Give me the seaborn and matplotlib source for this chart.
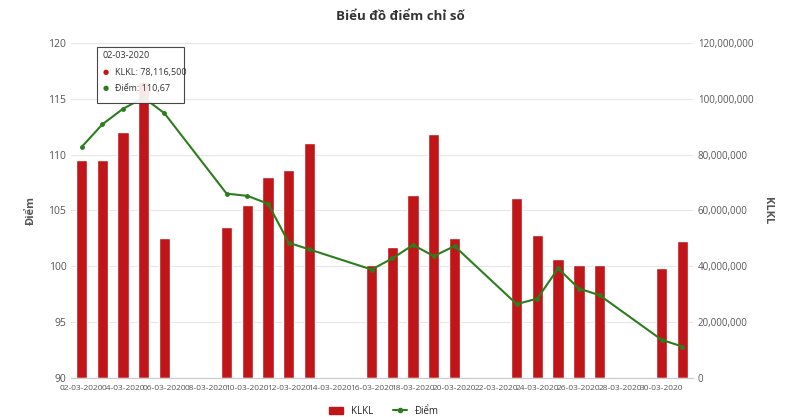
import pandas as pd
import matplotlib.pyplot as plt
import numpy as np
import seaborn as sns
from matplotlib.patches import Patch
from matplotlib.lines import Line2D

# Dữ liệu
days = [f"{d:02d}-03-2020" for d in range(2, 32)]
klkl_days = ["02-03-2020", "03-03-2020", "04-03-2020", "05-03-2020", "06-03-2020",
             "09-03-2020", "10-03-2020", "11-03-2020", "12-03-2020", "13-03-2020",
             "16-03-2020", "17-03-2020", "18-03-2020", "19-03-2020", "20-03-2020",
             "23-03-2020", "24-03-2020", "25-03-2020", "26-03-2020", "27-03-2020",
             "30-03-2020", "31-03-2020"]
klkl = [78116500, 78000000, 88000000, 106000000, 50000000,
        54000000, 62000000, 72000000, 74500000, 84000000,
        40500000, 47000000, 65500000, 87500000, 50000000,
        64500000, 51000000, 42500000, 40500000, 40500000,
        39500000, 49000000]
diem = [110.67, 112.7, 114.1, 115.1, 113.7,
        106.5, 106.3, 105.6, 102.1, 101.5,
        99.7, 100.7, 101.9, 100.9, 101.8,
        96.6, 97.1, 99.8, 98.0, 97.4,
        93.4, 92.8]

df = pd.DataFrame({"date": klkl_days, "KLKL": klkl, "Điểm": diem})
df["pos"] = [days.index(d) for d in df["date"]]

sns.set_style("white")
plt.rcParams['font.family'] = ['Open Sans', 'DejaVu Sans']

fig = plt.figure(figsize=(8, 4.17), dpi=100)
ax = fig.add_axes([0.089, 0.094, 0.777, 0.803])

# Cột KLKL (trục phải)
sns.barplot(data=df, x="date", y="KLKL", order=days, color="#c0161a",
            saturation=1, width=0.55, ax=ax, zorder=2)
ax.set_ylim(0, 120000000)
ax.set_yticks(np.arange(0, 120000001, 20000000))
ax.set_yticklabels([f"{int(v):,}" for v in ax.get_yticks()], fontsize=7, color="#555555")
ax.set_xlabel("")
ax.set_xlim(-0.5, len(days) - 0.5)
ax.set_xticks(range(0, len(days), 2))
ax.set_xticklabels(days[::2], fontsize=6, color="#555555")
ax.tick_params(axis="x", length=3, color="#cccccc", pad=2)
ax.tick_params(axis="y", length=0)
ax.yaxis.grid(True, color="#e6e6e6", linewidth=0.8, zorder=0)
ax.set_axisbelow(True)

# Đường Điểm (trục trái)
ax2 = ax.twinx()
ax.yaxis.tick_right()
ax.yaxis.set_label_position("right")
ax.set_ylabel("KLKL", rotation=270, labelpad=14, fontsize=8, fontweight="bold", color="#555555")
sns.lineplot(data=df, x="pos", y="Điểm", color="#2c7d1d", marker="o", markersize=3.5,
             markeredgewidth=0, linewidth=1.5, ax=ax2, zorder=3)
ax2.yaxis.tick_left()
ax2.yaxis.set_label_position("left")
ax2.set_ylim(90, 120)
ax2.set_yticks(range(90, 121, 5))
ax2.tick_params(axis="y", labelsize=7.5, colors="#555555", length=0)
ax2.set_ylabel("Điểm", fontsize=8, fontweight="bold", color="#555555", labelpad=8)
ax2.set_xlabel("")
ax2.set_xlim(-0.5, len(days) - 0.5)
ax2.grid(False)
for a in (ax, ax2):
    for s in ["top", "left", "right"]:
        a.spines[s].set_visible(False)
    a.spines["bottom"].set_color("#cccccc")

fig.suptitle("Biểu đồ điểm chỉ số", y=0.975, fontsize=9.5, fontweight="bold", color="#333333")

# Tooltip
ax2.add_patch(plt.Rectangle((0.75, 114.6), 4.2, 5.0, facecolor="white", alpha=0.9,
                            edgecolor="#333333", linewidth=0.8, zorder=4))
ax2.text(1.0, 119.3, "02-03-2020", fontsize=6.5, color="#333333", va="top", zorder=5)
ax2.text(1.0, 117.7, "●", fontsize=5, color="#c0161a", va="top", zorder=5)
ax2.text(1.6, 117.8, "KLKL: 78,116,500", fontsize=6.5, color="#333333", va="top", zorder=5)
ax2.text(1.0, 116.2, "●", fontsize=5, color="#2c7d1d", va="top", zorder=5)
ax2.text(1.6, 116.3, "Điểm: 110,67", fontsize=6.5, color="#333333", va="top", zorder=5)

# Chú giải
handles = [Patch(color="#c0161a", label="KLKL"),
           Line2D([0], [0], color="#2c7d1d", marker="o", markersize=3, lw=1.5, label="Điểm")]
fig.legend(handles=handles, loc="lower center", ncol=2, frameon=False, fontsize=7,
           bbox_to_anchor=(0.48, -0.02), handlelength=1.5)
if ax2.get_legend():
    ax2.get_legend().remove()

fig.savefig("out.png", dpi=100)
